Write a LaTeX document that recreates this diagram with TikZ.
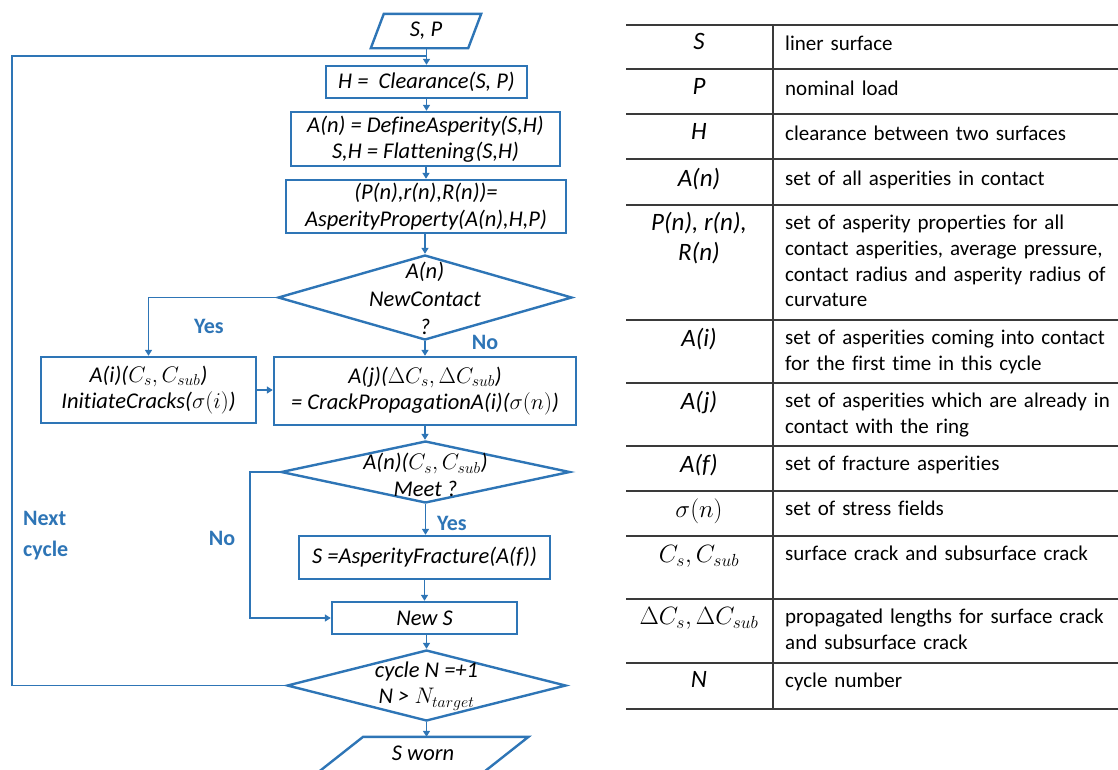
\documentclass[tikz,border=0pt]{standalone}
\usepackage{fix-cm}
\usepackage{fontspec}
\setmainfont[Ligatures=NoCommon]{Carlito}
\usetikzlibrary{shapes.geometric,arrows.meta}
\definecolor{flowblue}{HTML}{2E75B6}
\definecolor{rulegray}{HTML}{3A3A3A}
\tikzset{
  procbox/.style={draw=flowblue, line width=2.4pt, rectangle, inner sep=0pt},
  decision/.style={draw=flowblue, line width=2.4pt, diamond, inner sep=0pt},
  iospace/.style={rectangle, inner sep=0pt},
  ioedge/.style={draw=flowblue, line width=2.4pt, line join=miter},
  flowtext/.style={font=\fontsize{22.5}{26.5}\selectfont\itshape, align=center, inner sep=0pt},
  branch/.style={font=\fontsize{22}{31}\selectfont\bfseries, text=flowblue, inner sep=0pt},
  link/.style={draw=flowblue, line width=1.6pt},
  arrow/.style={link, -{Triangle[length=6pt,width=7pt]}},
  rowrule/.style={draw=rulegray, line width=1.4pt},
  symcell/.style={font=\fontsize{25}{30}\selectfont\itshape, align=center, anchor=north, inner sep=0pt},
  desccell/.style={font=\fontsize{21}{25.7}\selectfont, align=left, anchor=north west, text width=340pt, inner sep=0pt}
}
\begin{document}
\begin{tikzpicture}[x=1pt,y=-1pt]
\useasboundingbox (0,0) rectangle (1118,769);
\clip (0,0) rectangle (1118,769);

% ---------------- flowchart ----------------
% input parallelogram
\node[iospace, minimum width=97pt, minimum height=34pt] (sp) at (426,31) {};
\draw[ioedge] ([xshift=6.5pt]sp.north west) -- ([xshift=6.5pt]sp.north east)
  -- ([xshift=-6.5pt]sp.south east) -- ([xshift=-6.5pt]sp.south west) -- cycle;
\node[flowtext] (spt) at (sp) {S, P};

\node[procbox, minimum width=201pt, minimum height=32pt] (clr) at (426.5,82) {};
\node[flowtext] (clrt) at (clr) {H =\ \ Clearance(S, P)};

\node[procbox, minimum width=269pt, minimum height=54pt] (def) at (425.5,139) {};
\node[flowtext] (deft) at (def) {A(n) = DefineAsperity(S,H)\\S,H = Flattening(S,H)};

\node[procbox, minimum width=280pt, minimum height=53pt] (prop) at (426,206.5) {};
\node[flowtext] (propt) at (prop) {(P(n),r(n),R(n))=\\AsperityProperty(A(n),H,P)};

\node[decision, minimum width=294pt, minimum height=85pt] (newc) at (425,297.5) {};
\node[flowtext, font=\fontsize{22.5}{28}\selectfont\itshape] (newct) at (425,298) {A(n)\\NewContact\\?};

\node[procbox, minimum width=215pt, minimum height=66pt] (init) at (148.5,390) {};
\node[flowtext] (initt) at (init) {A(i)($C_s, C_{sub}$)\\InitiateCracks($\sigma(i)$)};

\node[procbox, minimum width=302pt, minimum height=68pt] (crack) at (425,391) {};
\node[flowtext] (crackt) at (crack) {A(j)($\Delta C_s, \Delta C_{sub}$)\\= CrackPropagationA(i)($\sigma(n)$)};

\node[decision, minimum width=289pt, minimum height=62pt] (meet) at (425.5,472) {};
\node[flowtext] (meett) at (425.5,475) {A(n)($C_s, C_{sub}$)\\Meet ?};

\node[procbox, minimum width=251pt, minimum height=43pt] (frac) at (424.5,557.5) {};
\node[flowtext] (fract) at (frac) {S =AsperityFracture(A(f))};

\node[procbox, minimum width=185pt, minimum height=32pt] (news) at (424.5,618) {};
\node[flowtext] (newst) at (news) {New S};

\node[decision, minimum width=279pt, minimum height=71pt] (cyc) at (426.5,685.5) {};
\node[flowtext] (cyct) at (426.5,686) {cycle N =+1\\N > $N_{target}$};

% output parallelogram
\node[iospace, minimum width=165pt, minimum height=34pt] (worn) at (424,754) {};
\draw[ioedge] ([xshift=21.8pt]worn.north west) -- ([xshift=21.8pt]worn.north east)
  -- ([xshift=-21.8pt]worn.south east) -- ([xshift=-21.8pt]worn.south west) -- cycle;
\node[flowtext] (wornt) at (423,753) {S worn};

% connectors
\coordinate (merge) at (426.5,56);
\coordinate (loopcorner) at (12,56);
\coordinate (nobend) at (250,472);

\draw[arrow] (sp.south -| clr.north) -- (clr.north);
\draw[arrow] (clr.south) -- (clr.south |- def.north);
\draw[arrow] (def.south -| prop.north) -- (prop.north);
\draw[arrow] (prop.south -| newc.north) -- (newc.north);
\draw[arrow] (newc.west) -| (init.north);
\draw[arrow] (newc.south) -- (newc.south |- crack.north);
\draw[arrow] (init.east) -- (init.east -| crack.west);
\draw[arrow] (crack.south) -- (crack.south |- meet.north);
\draw[arrow] (meet.south) -- (meet.south |- frac.north);
\draw[arrow] (meet.west) -- (nobend) |- (news.west);
\draw[arrow] (frac.south -| news.north) -- (news.north);
\draw[arrow] (news.south -| cyc.north) -- (cyc.north);
\draw[arrow] (cyc.south) -- (cyc.south |- worn.north);
\draw[link] (cyc.west) -| (loopcorner) -- (merge);

% branch labels
\node[branch] (yes1) at (209,326) {Yes};
\node[branch] (no1) at (485,342) {No};
\node[branch] (yes2) at (452,523) {Yes};
\node[branch] (no2) at (222,538) {No};
\node[branch, align=left, anchor=west] (next) at (23,536) {Next\\cycle};

% ---------------- symbol table ----------------
\foreach \y in {25,69,114,159,205,320,383,446,491,536,599,663,709}
  \draw[rowrule] (626,\y) -- (1118,\y);
\draw[rowrule] (773,25) -- (773,709);

\node[symcell] (s1) at (699,33) {S};
\node[desccell] (d1) at (785,36) {liner surface};
\node[symcell] (s2) at (699,78) {P};
\node[desccell] (d2) at (785,81) {nominal load};
\node[symcell] (s3) at (699,123) {H};
\node[desccell] (d3) at (785,126) {clearance between two surfaces};
\node[symcell] (s4) at (699,168) {A(n)};
\node[desccell] (d4) at (785,171) {set of all asperities in contact};
\node[symcell] (s5) at (699,212) {P(n), r(n),\\R(n)};
\node[desccell] (d5) at (785,215) {set of asperity properties for all\\contact asperities, average pressure,\\contact radius and asperity radius of\\curvature};
\node[symcell] (s6) at (699,328) {A(i)};
\node[desccell] (d6) at (785,330) {set of asperities coming into contact\\for the first time in this cycle};
\node[symcell] (s7) at (699,391) {A(j)};
\node[desccell] (d7) at (785,393) {set of asperities which are already in\\contact with the ring};
\node[symcell] (s8) at (699,454) {A(f)};
\node[desccell] (d8) at (785,456) {set of fracture asperities};
\node[symcell] (s9) at (699,499) {$\sigma(n)$};
\node[desccell] (d9) at (785,501) {set of stress fields};
\node[symcell] (s10) at (699,545) {$C_s, C_{sub}$};
\node[desccell] (d10) at (785,546) {surface crack and subsurface crack};
\node[symcell] (s11) at (699,607) {$\Delta C_s, \Delta C_{sub}$};
\node[desccell] (d11) at (785,609) {propagated lengths for surface crack\\and subsurface crack};
\node[symcell] (s12) at (699,671) {N};
\node[desccell] (d12) at (785,673) {cycle number};
\end{tikzpicture}
\end{document}
